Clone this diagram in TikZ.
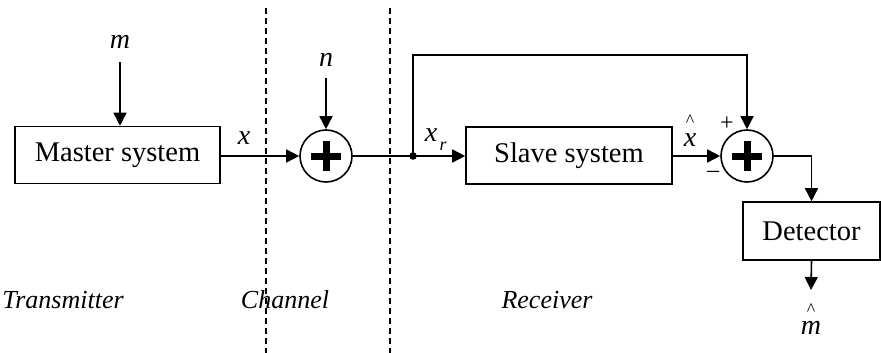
\documentclass[tikz,border=0pt]{standalone}
\usepackage{fontspec}
\setmainfont{Liberation Serif}
\newfontfamily\tnr{Liberation Serif}
\usetikzlibrary{arrows.meta}
\begin{document}
\begin{tikzpicture}[x=1pt,y=-1pt,line width=1.6pt,
  >={Triangle[length=13pt,width=13pt]},
  block/.style={draw,rectangle,inner sep=0pt,font=\tnr\fontsize{28.5}{30}\selectfont},
  adder/.style={draw,circle,minimum size=52pt,inner sep=0pt},
  sig/.style={font=\tnr\fontsize{28}{28}\selectfont\itshape,inner sep=0pt},
  region/.style={font=\tnr\fontsize{26}{26}\selectfont\itshape,inner sep=0pt},
  hatmark/.style={font=\tnr\fontsize{18}{18}\selectfont,inner sep=0pt,anchor=south},
  sign/.style={font=\tnr\fontsize{24}{24}\selectfont,inner sep=0pt},
  border/.style={line width=1.2pt,dash pattern=on 6pt off 4pt}]
\useasboundingbox (0,0) rectangle (881,353);

% regions
\draw[border] (266,8) -- (266,353);
\draw[border] (390,8) -- (390,353);
\node[region] (tx) at (63,300) {Transmitter};
\node[region] (ch) at (285,300) {Channel};
\node[region] (rx) at (547,300) {Receiver};

% blocks
\node[block,minimum width=205pt,minimum height=57pt] (master) at (117.5,155) {Master system};
\node[block,minimum width=206pt,minimum height=57pt] (slave) at (569,155.5) {Slave system};
\node[block,minimum width=137pt,minimum height=58pt] (det) at (811.5,231) {Detector};
\node[adder] (add1) at (326,156) {};
\node[adder] (add2) at (747,156) {};
\foreach \a in {add1,add2}{
  \draw[line width=7pt] ([xshift=-15pt]\a.center) -- ([xshift=15pt]\a.center);
  \draw[line width=7pt] ([yshift=-15pt]\a.center) -- ([yshift=15pt]\a.center);
}

% inputs and labels
\node[sig] (m) at (120,42) {m};
\coordinate (msrc) at (120,62);
\draw[->] (msrc) -- (msrc |- master.north);
\node[sig] (n) at (326,60) {n};
\coordinate (nsrc) at (326,78);
\draw[->] (nsrc) -- (add1.north);

\draw[->] (master.east |- add1.west) -- (add1.west);
\node[sig] (xl) at (244,138) {x};

\coordinate (tap) at (413,156);
\draw (add1.east) -- (tap);
\fill (tap) circle (3.8pt);
\draw[->] (tap) -- (slave.west |- tap);
\node[sig] (xr) at (431,135) {x};
\node[sig,font=\tnr\fontsize{18}{18}\selectfont\itshape] (rsub) at (443,146) {r};

\draw[->] (tap) -- (413,55) -| (add2.north);
\node[sign] (plus) at (727,124) {+};
\node[sign] (minus) at (713,174) {\textendash};

\draw[->] (slave.east |- add2.west) -- (add2.west);
\node[sig] (xhat) at (690,140) {x};
\node[hatmark] (xhatmark) at (690,127) {\textasciicircum};

\draw[->] (add2.east) -| (det.north);
\coordinate (out) at (811,290);
\draw[->] (det.south) -- (out);
\node[sig] (mhat) at (811,328) {m};
\node[hatmark] (mhatmark) at (811,316) {\textasciicircum};
\end{tikzpicture}
\end{document}
